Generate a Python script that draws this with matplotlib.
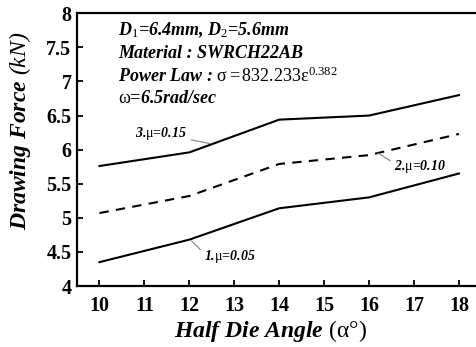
import matplotlib
matplotlib.use("Agg")
import matplotlib.pyplot as plt

plt.rcParams['font.family'] = ['Liberation Serif', 'DejaVu Serif']
plt.rcParams['mathtext.fontset'] = 'custom'
plt.rcParams['mathtext.rm'] = 'Liberation Serif'
plt.rcParams['mathtext.it'] = 'Liberation Serif:italic:bold'
plt.rcParams['mathtext.bf'] = 'Liberation Serif:bold'
plt.rcParams['mathtext.sf'] = 'Liberation Serif:italic'
plt.rcParams['mathtext.default'] = 'it'

angles = [10, 12, 14, 16, 18]
mu_005 = [4.35, 4.68, 5.14, 5.30, 5.65]
mu_010 = [5.07, 5.32, 5.79, 5.92, 6.23]
mu_015 = [5.76, 5.96, 6.44, 6.50, 6.80]
xticks = [10, 11, 12, 13, 14, 15, 16, 17, 18]
yticks = [4, 4.5, 5, 5.5, 6, 6.5, 7, 7.5, 8]
yticklabels = ['4', '4.5', '5', '5.5', '6', '6.5', '7', '7.5', '8']

W, H = 477, 347
fig = plt.figure(figsize=(W / 100, H / 100), dpi=100)
ax = fig.add_axes([77 / W, 1 - 286 / H, 404.4 / W, 272.7 / H])

ax.plot(angles, mu_005, color='black', lw=1.5)
ax.plot(angles, mu_010, color='black', lw=1.5, ls=(0, (4.5, 3.5)))
ax.plot(angles, mu_015, color='black', lw=1.5)

ax.set_xlim(9.5, 18.5)
ax.set_ylim(4, 8)
ax.set_xticks(xticks)
ax.set_xticklabels([str(t) for t in xticks])
ax.set_yticks(yticks)
ax.set_yticklabels(yticklabels)
ax.tick_params(direction='in', length=4, width=1.3, labelsize=14.5)
ax.tick_params(axis='x', pad=7)
ax.tick_params(axis='y', pad=4)
for lab in ax.get_xticklabels() + ax.get_yticklabels():
    lab.set_fontweight('bold')
for s in ['left', 'bottom', 'top', 'right']:
    ax.spines[s].set_linewidth(1.6)

ax.set_xlabel('Half Die Angle $\\mathrm{(\\alpha°)}$', fontsize=17, fontweight='bold', style='italic')
ax.set_ylabel('Drawing Force $\\mathsf{(kN)}$', fontsize=17, fontweight='bold', style='italic')
ax.xaxis.set_label_coords(0.478, -0.118)
ax.yaxis.set_label_coords(-0.110, 0.568)

tkw = dict(fontsize=13, fontweight='bold', style='italic', transform=fig.transFigure, va='center', ha='left')
fig.text(118 / W, 1 - 30 / H, 'D$_1$=6.4mm, D$_2$=5.6mm', **tkw)
fig.text(118 / W, 1 - 53 / H, 'Material : SWRCH22AB', **tkw)
fig.text(118 / W, 1 - 76 / H, 'Power Law : $\\mathrm{\\sigma=832.233\\varepsilon^{0.382}}$', **tkw)
fig.text(118 / W, 1 - 98 / H, '$\\mathrm{\\omega}$=6.5rad/sec', **tkw)

akw = dict(textcoords='data', va='center', fontsize=10, fontweight='bold', style='italic')
ax.annotate('3.$\\mathrm{\\mu}$=0.15', xy=(12.45, 6.09), xytext=(11.95, 6.23), ha='right',
            arrowprops=dict(arrowstyle='-', color='gray', lw=0.8, shrinkA=1, shrinkB=0,
                            relpos=(1.0, 0.2)), **akw)
ax.annotate('2.$\\mathrm{\\mu}$=0.10', xy=(16.2, 5.95), xytext=(16.56, 5.75), ha='left',
            arrowprops=dict(arrowstyle='-', color='gray', lw=0.8, shrinkA=1, shrinkB=0,
                            relpos=(0.0, 0.7)), **akw)
ax.annotate('1.$\\mathrm{\\mu}$=0.05', xy=(12.05, 4.66), xytext=(12.33, 4.43), ha='left',
            arrowprops=dict(arrowstyle='-', color='gray', lw=0.8, shrinkA=1, shrinkB=0,
                            relpos=(0.0, 0.7)), **akw)

fig.savefig('out.png', dpi=100)
